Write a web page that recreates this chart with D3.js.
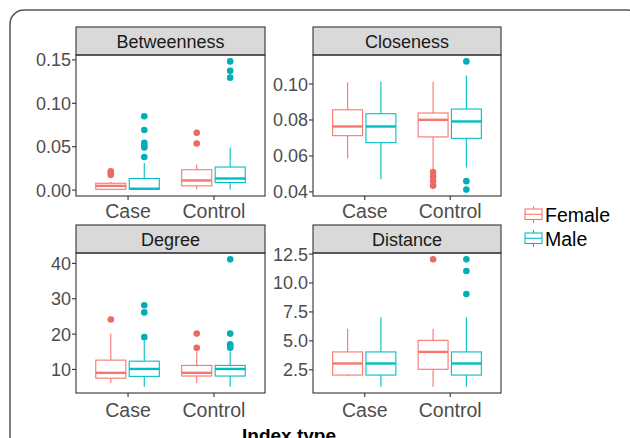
<!DOCTYPE html>
<html>
<head>
<meta charset="utf-8">
<script src="https://cdn.jsdelivr.net/npm/d3@7"></script>
<style>
  body { margin: 0; background: #fff; }
  svg { display: block; font-family: "Liberation Sans", Arial, sans-serif; }
</style>
</head>
<body>
<svg width="630" height="438"></svg>
<script>
'use strict';

var groups = ['Case', 'Control'],
    sexes = ['Female', 'Male'],
    colors = ['#F8766D', '#00BFC4'],
    pointColors = ['#EC6A62', '#00AFB5'];

// box stats per group, order: Case-Female, Case-Male, Control-Female, Control-Male
// [lower whisker, q1, median, q3, upper whisker]
var betweennessBoxes = [
    [0, 0.0003, 0.0043, 0.0073, 0.009],
    [0, 0.0003, 0.001, 0.0128, 0.0306],
    [0.0003, 0.0043, 0.0105, 0.0229, 0.029],
    [0, 0.0081, 0.0128, 0.026, 0.0485]
];
var betweennessOutliers = [
    [0.017, 0.019, 0.021],
    [0.0376, 0.0485, 0.0508, 0.054, 0.0686, 0.0845],
    [0.0531, 0.0655],
    [0.129, 0.1368, 0.1477]
];
var betweennessTicks = [0, 0.05, 0.10, 0.15];

var closenessBoxes = [
    [0.0583, 0.0710, 0.0761, 0.0854, 0.1007],
    [0.0467, 0.0671, 0.0761, 0.0832, 0.1011],
    [0.0518, 0.0703, 0.0798, 0.0836, 0.1010],
    [0.0533, 0.0695, 0.0789, 0.0858, 0.1045]
];
var closenessOutliers = [
    [],
    [],
    [0.0432, 0.0459, 0.0483, 0.0508],
    [0.041, 0.0457, 0.1123]
];
var closenessTicks = [0.04, 0.06, 0.08, 0.10];

var degreeBoxes = [
    [6, 7.4, 8.9, 12.5, 20],
    [5, 7.9, 10, 12.2, 18],
    [6, 8, 8.9, 11, 15],
    [5, 8, 10, 11, 15]
];
var degreeOutliers = [
    [24],
    [19, 26, 28],
    [16, 20],
    [16, 16.5, 17, 20, 41]
];
var degreeTicks = [10, 20, 30, 40];

var distanceBoxes = [
    [1.9, 2, 3, 4, 6],
    [1, 2, 3, 4, 7],
    [1, 2.5, 4, 5, 6],
    [1, 2, 3, 4, 7]
];
var distanceOutliers = [
    [],
    [],
    [12],
    [9, 11, 12]
];
var distanceTicks = [2.5, 5.0, 7.5, 10.0, 12.5];

var panels = [
    { title: 'Betweenness', boxes: betweennessBoxes, outliers: betweennessOutliers, ticks: betweennessTicks, fmt: '.2f', col: 0, row: 0 },
    { title: 'Closeness', boxes: closenessBoxes, outliers: closenessOutliers, ticks: closenessTicks, fmt: '.2f', col: 1, row: 0 },
    { title: 'Degree', boxes: degreeBoxes, outliers: degreeOutliers, ticks: degreeTicks, fmt: 'd', col: 0, row: 1 },
    { title: 'Distance', boxes: distanceBoxes, outliers: distanceOutliers, ticks: distanceTicks, fmt: '.1f', col: 1, row: 1 }
];

var svg = d3.select('svg');

// rounded frame around the figure
svg.append('rect')
    .attr('x', 10).attr('y', 10)
    .attr('width', 631).attr('height', 460)
    .attr('rx', 14).attr('ry', 14)
    .attr('fill', 'none')
    .attr('stroke', '#555')
    .attr('stroke-width', 1.5);

var colX = [[76, 265], [313, 501]],
    rowY = [{ strip: 27, top: 55, bottom: 196, pad: 4 }, { strip: 225, top: 253, bottom: 393, pad: 6 }];

panels.forEach(function (p) {
    var x0 = colX[p.col][0], x1 = colX[p.col][1],
        r = rowY[p.row];

    // y domain with 5% expansion like ggplot
    var all = [];
    p.boxes.forEach(function (b) { all = all.concat(b); });
    p.outliers.forEach(function (o) { all = all.concat(o); });
    var ext = d3.extent(all), pad = (ext[1] - ext[0]) * 0.05;

    var y = d3.scaleLinear().domain([ext[0] - pad, ext[1] + pad]).range([r.bottom, r.top]);
    var x = d3.scalePoint().domain(groups).range([x0, x1]).padding(0.6);
    var step = x.step();
    var xs = d3.scaleBand().domain(sexes).range([-step * 0.37, step * 0.37]).paddingInner(0.1);
    var bw = xs.bandwidth();

    var g = svg.append('g');

    // strip
    g.append('rect')
        .attr('x', x0).attr('y', r.strip)
        .attr('width', x1 - x0).attr('height', r.top - r.strip)
        .attr('fill', '#D9D9D9').attr('stroke', '#333').attr('stroke-width', 1.1);
    g.append('text')
        .attr('x', (x0 + x1) / 2).attr('y', r.strip + 21)
        .attr('text-anchor', 'middle')
        .attr('font-size', 18).attr('fill', '#1A1A1A')
        .text(p.title);

    // boxes
    p.boxes.forEach(function (b, i) {
        var grp = groups[Math.floor(i / 2)], s = i % 2,
            cx = x(grp) + xs(sexes[s]) + bw / 2,
            left = cx - bw / 2,
            c = colors[s],
            bg = g.append('g');
        bg.append('line')
            .attr('x1', cx).attr('x2', cx).attr('y1', y(b[0])).attr('y2', y(b[1]))
            .attr('stroke', c).attr('stroke-width', 1.1);
        bg.append('line')
            .attr('x1', cx).attr('x2', cx).attr('y1', y(b[3])).attr('y2', y(b[4]))
            .attr('stroke', c).attr('stroke-width', 1.1);
        bg.append('rect')
            .attr('x', left).attr('y', y(b[3]))
            .attr('width', bw).attr('height', Math.max(0.5, y(b[1]) - y(b[3])))
            .attr('fill', '#fff').attr('stroke', c).attr('stroke-width', 1.1);
        bg.append('line')
            .attr('x1', left).attr('x2', left + bw).attr('y1', y(b[2])).attr('y2', y(b[2]))
            .attr('stroke', c).attr('stroke-width', 2.4);
        bg.selectAll('circle').data(p.outliers[i]).enter().append('circle')
            .attr('cx', cx).attr('cy', function (d) { return y(d); })
            .attr('r', 3.3)
            .attr('fill', pointColors[s]);
    });

    // panel border
    g.append('rect')
        .attr('x', x0).attr('y', r.top)
        .attr('width', x1 - x0).attr('height', r.bottom - r.top)
        .attr('fill', 'none').attr('stroke', '#333').attr('stroke-width', 1.1);

    // axes
    var yAxis = g.append('g')
        .attr('transform', 'translate(' + x0 + ',0)')
        .call(d3.axisLeft(y).tickValues(p.ticks).tickFormat(d3.format(p.fmt)).tickSize(4).tickPadding(1));
    var xAxis = g.append('g')
        .attr('transform', 'translate(0,' + r.bottom + ')')
        .call(d3.axisBottom(x).tickSize(4).tickPadding(r.pad));
    [yAxis, xAxis].forEach(function (ax) {
        ax.select('.domain').remove();
        ax.selectAll('.tick line').attr('stroke', '#333').attr('stroke-width', 1.1);
        ax.selectAll('.tick text')
            .attr('fill', '#4D4D4D')
            .attr('font-family', '"Liberation Sans", Arial, sans-serif');
    });
    yAxis.selectAll('.tick text').attr('font-size', 18).attr('dy', '0.36em');
    xAxis.selectAll('.tick text').attr('font-size', 19.5).attr('dy', '0.72em');
});

// x axis title
svg.append('text')
    .attr('x', 289).attr('y', 442)
    .attr('text-anchor', 'middle')
    .attr('font-size', 19).attr('font-weight', 'bold')
    .attr('fill', '#000')
    .text('Index type');

// legend
var legend = svg.append('g').attr('transform', 'translate(524,206)');
sexes.forEach(function (s, i) {
    var k = legend.append('g').attr('transform', 'translate(0,' + (i * 24) + ')'),
        c = colors[i];
    k.append('line').attr('x1', 9.5).attr('x2', 9.5).attr('y1', 0).attr('y2', 17)
        .attr('stroke', c).attr('stroke-width', 1.1);
    k.append('rect').attr('x', 1).attr('y', 3).attr('width', 17).attr('height', 10.5)
        .attr('fill', '#fff').attr('stroke', c).attr('stroke-width', 1.1);
    k.append('line').attr('x1', 1).attr('x2', 18).attr('y1', 8.3).attr('y2', 8.3)
        .attr('stroke', c).attr('stroke-width', 1.1);
    k.append('text')
        .attr('x', 21).attr('y', 16)
        .attr('font-size', 19.5).attr('fill', '#000')
        .text(s);
});
</script>
</body>
</html>
